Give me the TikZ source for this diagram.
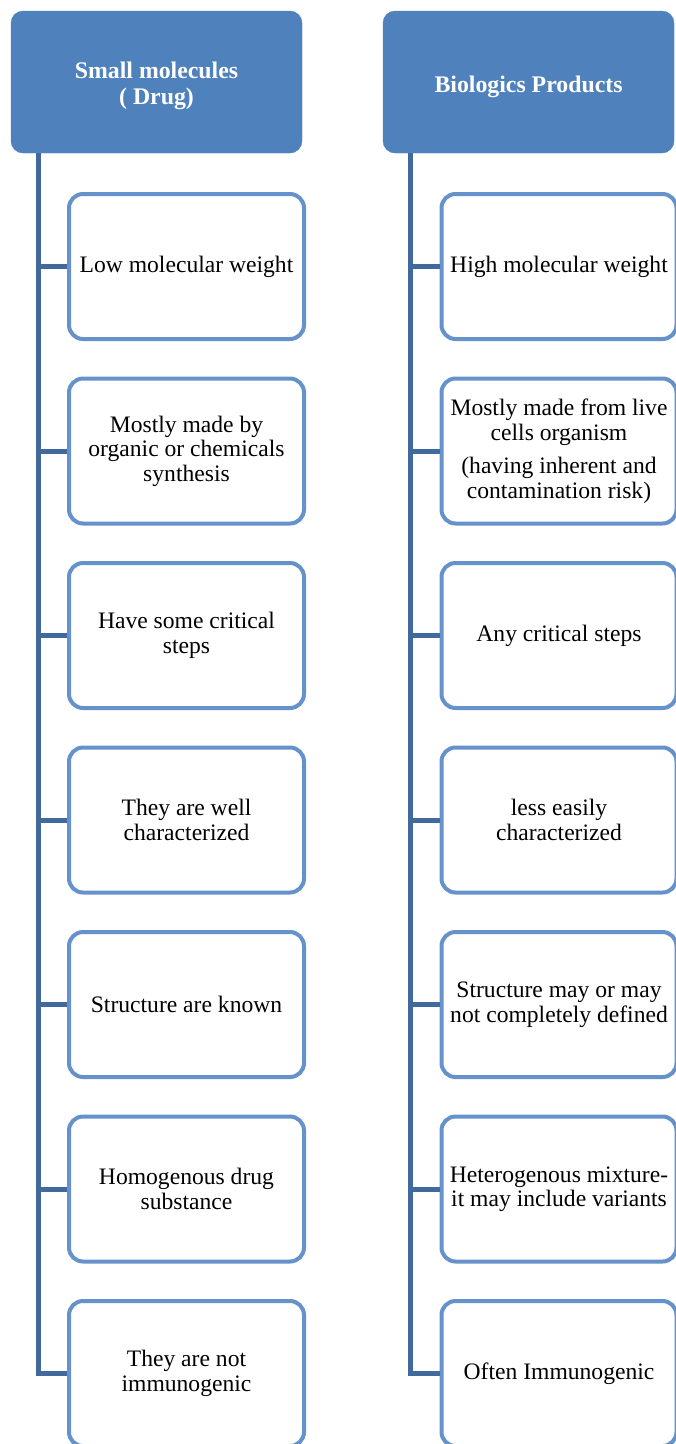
\documentclass[tikz,border=0pt]{standalone}
\usepackage{fontspec}
\setmainfont{Liberation Serif}
\usepackage{xcolor}
\usepackage{tikz}
\usetikzlibrary{positioning}

\definecolor{headblue}{HTML}{4F81BD}
\definecolor{boxblue}{HTML}{6592CA}
\definecolor{lineblue}{HTML}{41699C}

\begin{document}
\begin{tikzpicture}[
    x=1pt, y=1pt,
    node distance = 35.5pt,
    every node/.style = {align=center},
    head/.style   = {draw=headblue, fill=headblue, rounded corners=12pt,
                     minimum width=291pt, minimum height=142pt, text=white,
                     font=\fontsize{23.8}{27.5}\selectfont\bfseries},
    item/.style   = {draw=boxblue, line width=4pt, fill=white, rounded corners=14pt,
                     minimum width=235pt, minimum height=145pt, inner sep=2pt,
                     font=\fontsize{23.6}{24.5}\selectfont},
    trunk/.style  = {draw=lineblue, line width=5pt},
]
\useasboundingbox (0,0) rectangle (676,-1444);

% ---------------- Headers ----------------
\node[head] (lhead) at (156.5,-82) {\raisebox{-10pt}[0pt][0pt]{\begin{tabular}{@{}c@{}}Small molecules\\[-1pt]( Drug)\end{tabular}}};
\node[head] (rhead) at (528.5,-82) {\raisebox{-10pt}[0pt][0pt]{Biologics Products}};

% ---------------- Small molecules ----------------
\node[item] (l1) at (186.5,-266.5) {Low molecular weight};
\node[item, below=of l1] (l2) {Mostly made by\\organic or chemicals\\synthesis};
\node[item, below=of l2] (l3) {Have some critical\\steps};
\node[item, below=of l3] (l4) {They are well\\characterized};
\node[item, below=of l4] (l5) {Structure are known};
\node[item, below=of l5] (l6) {Homogenous drug\\substance};
\node[item, below=of l6] (l7) {They are not\\immunogenic};

% ---------------- Biologics ----------------
\node[item] (r1) at (559,-266.5) {High molecular weight};
\node[item, below=of r1] (r2) {Mostly made from live\\cells organism\\[9pt](having inherent and\\contamination risk)};
\node[item, below=of r2] (r3) {Any critical steps};
\node[item, below=of r3] (r4) {less easily\\characterized};
\node[item, below=of r4] (r5) {Structure may or may\\not completely defined};
\node[item, below=of r5] (r6) {Heterogenous mixture-\\it may include variants};
\node[item, below=of r6] (r7) {Often Immunogenic};

% ---------------- Trunks ----------------
\coordinate (ltop) at (38,-153);
\coordinate (rtop) at (410,-153);

\draw[trunk] (ltop) |- (l7.west);
\draw[trunk] (ltop |- l1.west) -- (l1.west);
\draw[trunk] (ltop |- l2.west) -- (l2.west);
\draw[trunk] (ltop |- l3.west) -- (l3.west);
\draw[trunk] (ltop |- l4.west) -- (l4.west);
\draw[trunk] (ltop |- l5.west) -- (l5.west);
\draw[trunk] (ltop |- l6.west) -- (l6.west);

\draw[trunk] (rtop) |- (r7.west);
\draw[trunk] (rtop |- r1.west) -- (r1.west);
\draw[trunk] (rtop |- r2.west) -- (r2.west);
\draw[trunk] (rtop |- r3.west) -- (r3.west);
\draw[trunk] (rtop |- r4.west) -- (r4.west);
\draw[trunk] (rtop |- r5.west) -- (r5.west);
\draw[trunk] (rtop |- r6.west) -- (r6.west);

\end{tikzpicture}
\end{document}
